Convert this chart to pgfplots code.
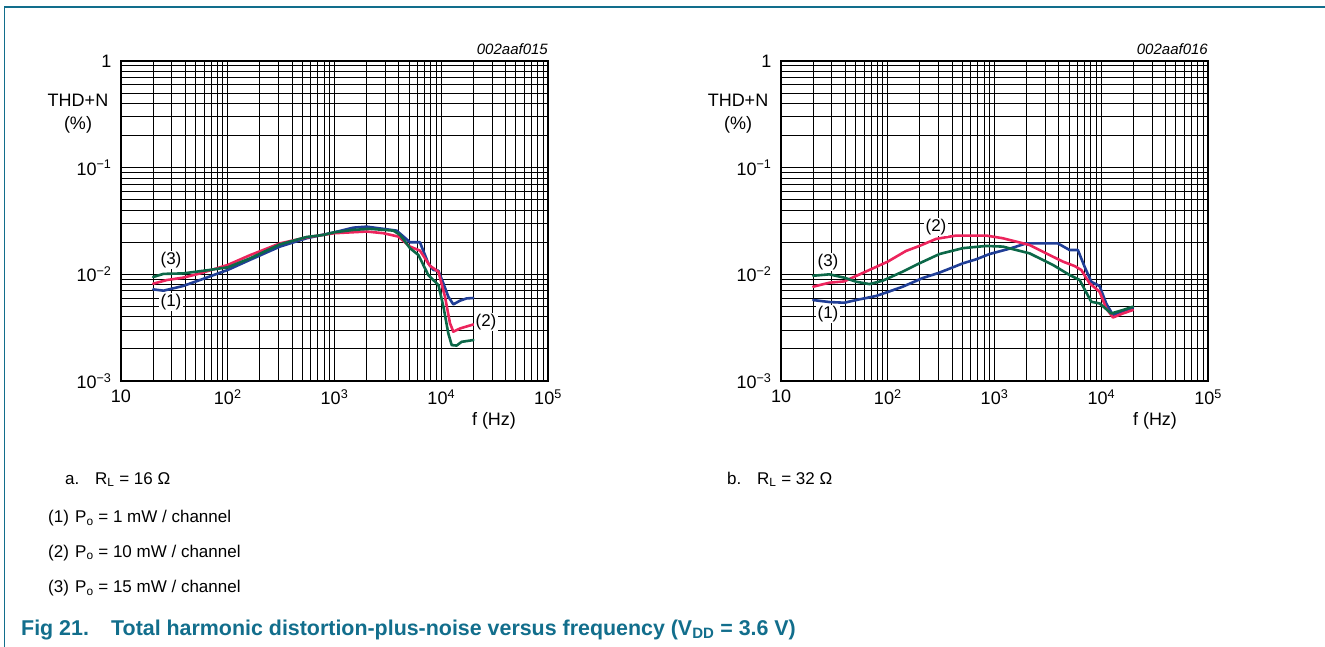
\documentclass[border=0pt]{standalone}
\usepackage{fontspec}
\setmainfont{Liberation Sans}
\usepackage{pgfplots}
\pgfplotsset{compat=1.18}

\definecolor{nxpteal}{RGB}{18,110,140}
\definecolor{cblue}{RGB}{32,62,150}
\definecolor{cpink}{RGB}{236,36,92}
\definecolor{cgreen}{RGB}{12,104,72}

\newcommand{\lbl}{\fontsize{18}{21}\selectfont}

\pgfplotsset{
  scale only axis, width=427pt, height=320pt,
  xmin=10, xmax=1e5, ymin=1e-3, ymax=1,
  xtick={10,100,1000,10000,100000},
  xticklabels={10,10\textsuperscript{2},10\textsuperscript{3},10\textsuperscript{4},10\textsuperscript{5}},
  ytick={0.001,0.01,0.1,1},
  yticklabels={10\textsuperscript{−3},10\textsuperscript{−2},10\textsuperscript{−1},1},
  minor xtick={20,30,40,50,60,70,80,90,200,300,400,500,600,700,800,900,
    2000,3000,4000,5000,6000,7000,8000,9000,20000,30000,40000,50000,60000,70000,80000,90000},
  minor ytick={0.002,0.003,0.004,0.005,0.006,0.007,0.008,0.009,
    0.02,0.03,0.04,0.05,0.06,0.07,0.08,0.09,0.2,0.3,0.4,0.5,0.6,0.7,0.8,0.9},
  grid=both,
  major grid style={black, line width=1.1pt},
  minor grid style={black, line width=1pt},
  axis line style={black, line width=1.3pt},
  major tick length=0pt, minor tick length=0pt,
  tick label style={font=\lbl},
  xticklabel style={yshift=-5pt},
  yticklabel style={xshift=-6pt},
  every axis plot/.append style={line width=2.6pt, line join=round, line cap=round},
}

\begin{document}
\begin{tikzpicture}
\useasboundingbox (0pt,0pt) rectangle (1325pt,-647pt);

% frame
\draw[nxpteal, line width=1.6pt] (4.5pt,-647pt) -- (4.5pt,-7pt) -- (1325pt,-7pt);

% ---------- a. RL = 16 ohm ----------
\begin{loglogaxis}[at={(121pt,-381pt)}, anchor=south west]
\addplot[cblue] coordinates {
(20,0.00723)(25,0.00703)(38,0.00777)(55,0.00885)(100,0.011)(161,0.01365)
(308,0.0182)(548,0.0218)(1000,0.0248)(1500,0.0274)(2000,0.028)(2865,0.0267)
(3817,0.0257)(4255,0.0234)(5090,0.02)(6310,0.02)(7560,0.01267)(8430,0.011)
(9400,0.0108)(10480,0.0082)(11650,0.00617)(12980,0.00523)(15000,0.00567)
(17300,0.00595)(20000,0.006)};
\addplot[cpink] coordinates {
(20,0.00817)(27,0.00885)(38,0.0093)(55,0.0102)(100,0.01225)(161,0.0151)
(308,0.0195)(548,0.0222)(1000,0.0243)(2000,0.0252)(2865,0.0243)(3960,0.0226)
(5090,0.0182)(6310,0.0167)(7850,0.012)(9400,0.0106)(10840,0.00617)
(12080,0.00347)(12980,0.0029)(15000,0.00311)(20000,0.00339)};
\addplot[cgreen] coordinates {
(20,0.00944)(25,0.0101)(38,0.0102)(68,0.011)(100,0.01164)(161,0.0141)
(308,0.0191)(548,0.0224)(785,0.0234)(1000,0.0248)(1500,0.0261)(2150,0.0267)
(3560,0.0257)(4110,0.0234)(5090,0.0176)(6100,0.0152)(7560,0.00986)
(8430,0.00885)(9400,0.00794)(10480,0.00497)(11650,0.00279)(12530,0.00217)
(13930,0.00215)(15530,0.00233)(20000,0.00242)};
\end{loglogaxis}

% ---------- b. RL = 32 ohm ----------
\begin{loglogaxis}[at={(781pt,-381pt)}, anchor=south west]
\addplot[cblue] coordinates {
(20,0.00574)(28.4,0.0055)(39.2,0.00542)(50.5,0.00574)(77.8,0.00627)(100,0.00683)
(138,0.00766)(213,0.00924)(305,0.01037)(505,0.01268)(673,0.01383)(898,0.0155)
(1383,0.0174)(1982,0.0195)(3050,0.0195)(3923,0.0195)(5050,0.0169)(6040,0.0169)
(6980,0.0118)(8060,0.00853)(9640,0.00777)(11130,0.00534)(12860,0.00415)
(15970,0.00453)(19800,0.00487)};
\addplot[cpink] coordinates {
(20,0.00766)(28.4,0.00835)(39.2,0.00859)(50.5,0.00965)(67.4,0.011)(100,0.01316)
(148,0.01655)(198,0.01846)(284,0.0215)(437,0.0231)(835,0.0231)(1197,0.0218)
(2130,0.01884)(3050,0.01573)(4375,0.01316)(5620,0.01197)(6494,0.011)
(7780,0.00823)(9640,0.00688)(11130,0.0048)(12860,0.00394)(15970,0.0043)
(19800,0.00463)};
\addplot[cgreen] coordinates {
(20,0.0097)(28.4,0.01)(39.2,0.0093)(50.5,0.00853)(67.4,0.0081)(89.8,0.00872)
(138,0.0106)(198,0.01268)(305,0.0155)(505,0.0176)(835,0.01846)(1197,0.0182)
(2130,0.01573)(3524,0.01225)(5050,0.00986)(6270,0.00885)(8060,0.00553)
(9640,0.00534)(12410,0.0043)(15970,0.00463)(19800,0.00497)};
\end{loglogaxis}

% curve labels
\tikzset{cl/.style={fill=white, inner sep=1.5pt, font=\fontsize{17}{20}\selectfont}}
\node[cl] at (171pt,-260pt) {(3)};
\node[cl] at (171pt,-302pt) {(1)};
\node[cl] at (486pt,-322pt) {(2)};
\node[cl] at (936pt,-227pt) {(2)};
\node[cl] at (828pt,-262pt) {(3)};
\node[cl] at (828pt,-314pt) {(1)};

% axis titles
\node[font=\lbl] at (78pt,-100pt) {THD+N};
\node[font=\lbl] at (78pt,-125pt) {(\%)};
\node[font=\lbl] at (738pt,-100pt) {THD+N};
\node[font=\lbl] at (738pt,-125pt) {(\%)};
\node[font=\fontsize{15}{18}\selectfont\itshape, anchor=base east, inner sep=0pt] at (548pt,-55pt) {002aaf015};
\node[font=\fontsize{15}{18}\selectfont\itshape, anchor=base east, inner sep=0pt] at (1208pt,-55pt) {002aaf016};
\node[font=\lbl] at (494pt,-421pt) {f (Hz)};
\node[font=\lbl] at (1155pt,-421pt) {f (Hz)};

% sub captions and legend
\begin{scope}[every node/.style={anchor=base west, inner sep=0pt, font=\fontsize{17}{20}\selectfont}]
\node at (65pt,-484pt) {a.};
\node at (95pt,-484pt) {R\textsubscript{L} = 16 Ω};
\node at (727pt,-484pt) {b.};
\node at (757pt,-484pt) {R\textsubscript{L} = 32 Ω};
\node at (48pt,-522.5pt) {(1)};
\node at (75pt,-522.5pt) {P\textsubscript{o} = 1 mW / channel};
\node at (48pt,-557pt) {(2)};
\node at (75pt,-557pt) {P\textsubscript{o} = 10 mW / channel};
\node at (48pt,-592.5pt) {(3)};
\node at (75pt,-592.5pt) {P\textsubscript{o} = 15 mW / channel};
\end{scope}
\node[anchor=base west, inner sep=0pt, text=nxpteal, font=\fontsize{21.4}{25}\selectfont\bfseries] at (21pt,-635pt) {Fig 21.};
\node[anchor=base west, inner sep=0pt, text=nxpteal, font=\fontsize{21.4}{25}\selectfont\bfseries] at (111pt,-635pt) {Total harmonic distortion-plus-noise versus frequency (V\textsubscript{DD} = 3.6 V)};
\end{tikzpicture}
\end{document}
